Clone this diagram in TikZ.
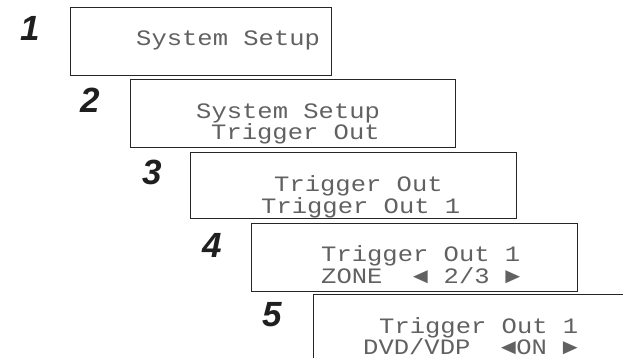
\documentclass[tikz,border=0pt]{standalone}
\usepackage{fontspec}
\setmainfont{Liberation Sans}
\newfontfamily\lcdfont{Liberation Mono}
\newcommand\lcdline[1]{\scalebox{1.16}[1]{#1}}
\begin{document}
\begin{tikzpicture}[x=1pt,y=-1pt,
  lcdbox/.style={draw=black!85, line width=1.3pt, minimum width=326pt, minimum height=68pt, anchor=north west, inner sep=0pt},
  lcdtext/.style={anchor=base west, inner sep=0pt, text=black!62, font=\lcdfont\fontsize{22pt}{22pt}\selectfont},
  stepnum/.style={inner sep=0pt, text=black!88, font=\bfseries\itshape\fontsize{35pt}{35pt}\selectfont}]
\useasboundingbox (0,0) rectangle (623,358);
\clip (0,0) rectangle (623,358);
% boxes
\node[lcdbox, minimum width=261pt] (b1) at (70,7) {};
\node[lcdbox, minimum width=325pt] (b2) at (130,79) {};
\node[lcdbox, minimum height=66pt] (b3) at (190,152) {};
\node[lcdbox] (b4) at (251,223) {};
\node[lcdbox, minimum width=340pt] (b5) at (313,294) {};
% step numbers
\node[stepnum] (n1) at (30,28) {1};
\node[stepnum] (n2) at (90,100) {2};
\node[stepnum] (n3) at (152,172) {3};
\node[stepnum] (n4) at (212,245) {4};
\node[stepnum] (n5) at (272,315) {5};
% display texts
\node[lcdtext] (t1) at (136,46) {\lcdline{System~Setup}};
\node[lcdtext] (t2a) at (196,119) {\lcdline{System~Setup}};
\node[lcdtext] (t2b) at (211,140) {\lcdline{Trigger~Out}};
\node[lcdtext] (t3a) at (274,191) {\lcdline{Trigger~Out}};
\node[lcdtext] (t3b) at (261,213) {\lcdline{Trigger~Out~1}};
\node[lcdtext] (t4a) at (321,261) {\lcdline{Trigger~Out~1}};
\node[lcdtext] (t4b) at (321,283) {\lcdline{ZONE~~◄~2/3~►}};
\node[lcdtext] (t5a) at (379,333) {\lcdline{Trigger~Out~1}};
\node[lcdtext] (t5b) at (363,354) {\lcdline{DVD/VDP~~◄ON~►}};
\end{tikzpicture}
\end{document}
